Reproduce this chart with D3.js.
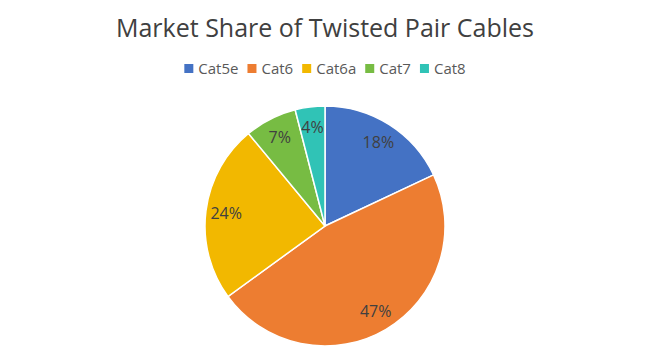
<!DOCTYPE html>
<html>
<head>
<meta charset="utf-8">
<script src="https://cdn.jsdelivr.net/npm/d3@7"></script>
<style>
  body { margin: 0; background: #fff; }
  text { font-family: "Segoe UI", "Open Sans", "Noto Sans", sans-serif; }
</style>
</head>
<body>
<svg id="chart"></svg>
<script>
const categories = ['Cat5e', 'Cat6', 'Cat6a', 'Cat7', 'Cat8'];
const shares = [18, 47, 24, 7, 4];
const colors = ['#4472C4', '#ED7D31', '#F2B800', '#77BC43', '#30C3B6'];

const width = 654, height = 360;
const cx = 325, cy = 226, radius = 120;

const svg = d3.select('#chart')
    .attr('width', width)
    .attr('height', height);

// Title
svg.append('text')
    .attr('x', 325)
    .attr('y', 37)
    .attr('text-anchor', 'middle')
    .style('font-size', '25px')
    .style('fill', '#404040')
    .text('Market Share of Twisted Pair Cables');

const data = categories.map((c, i) => ({ name: c, value: shares[i] }));
const color = d3.scaleOrdinal().domain(categories).range(colors);

// Legend - measure then center
const legend = svg.append('g').attr('class', 'legend');
const items = legend.selectAll('g')
    .data(data)
    .enter()
  .append('g');

items.append('rect')
    .attr('width', 9)
    .attr('height', 9)
    .attr('y', -5)
    .attr('fill', d => color(d.name));

items.append('text')
    .attr('x', 14)
    .attr('y', 0)
    .attr('dy', '0.35em')
    .style('font-size', '15px')
    .style('fill', '#595959')
    .text(d => d.name);

let xOff = 0;
const gap = 9;
items.each(function() {
  const w = this.getBBox().width;
  d3.select(this).attr('transform', `translate(${xOff},0)`);
  xOff += w + gap;
});
const total = xOff - gap;
legend.attr('transform', `translate(${325 - total / 2},69)`);

// Pie
const pie = d3.pie().sort(null).value(d => d.value);
const arc = d3.arc().innerRadius(0).outerRadius(radius);
const labelArc = d3.arc().innerRadius(radius * 0.83).outerRadius(radius * 0.83);

const g = svg.append('g')
    .attr('transform', `translate(${cx},${cy})`);

const slices = g.selectAll('.slice')
    .data(pie(data))
    .enter()
  .append('g')
    .attr('class', 'slice');

slices.append('path')
    .attr('d', arc)
    .attr('fill', d => color(d.data.name))
    .attr('stroke', '#fff')
    .attr('stroke-width', 1.5);

slices.append('text')
    .attr('transform', d => `translate(${labelArc.centroid(d)})`)
    .attr('text-anchor', 'middle')
    .attr('dy', '0.35em')
    .style('font-size', '16px')
    .style('fill', '#404040')
    .text(d => d.data.value + '%');
</script>
</body>
</html>
